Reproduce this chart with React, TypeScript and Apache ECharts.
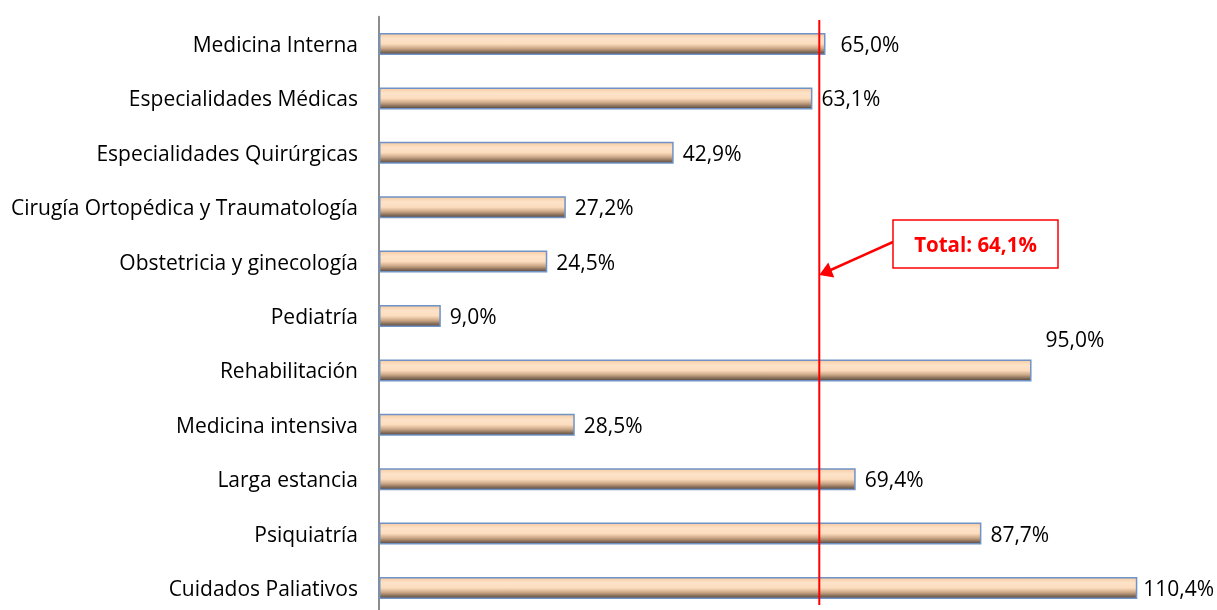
import React, { useEffect, useRef } from "react";
import * as echarts from "echarts";

const categories = [
  "Medicina Interna",
  "Especialidades Médicas",
  "Especialidades Quirúrgicas",
  "Cirugía Ortopédica y Traumatología",
  "Obstetricia y ginecología",
  "Pediatría",
  "Rehabilitación",
  "Medicina intensiva",
  "Larga estancia",
  "Psiquiatría",
  "Cuidados Paliativos",
];
const values = [65.0, 63.1, 42.9, 27.2, 24.5, 9.0, 95.0, 28.5, 69.4, 87.7, 110.4];
const totalValue = 64.1;
const totalLabel = "Total: 64,1%";

const FONT = "Open Sans";

const fmt = (v: number) => v.toFixed(1).replace(".", ",") + "%";

export default function App() {
  const ref = useRef<HTMLDivElement>(null);
  useEffect(() => {
    if (!ref.current) return;
    const chart = echarts.init(ref.current, undefined, { renderer: "svg" });
    const barGradient = new echarts.graphic.LinearGradient(0, 0, 0, 1, [
      { offset: 0, color: "#f6cba3" },
      { offset: 0.25, color: "#fde3c9" },
      { offset: 0.5, color: "#fcdcbd" },
      { offset: 0.72, color: "#c9a585" },
      { offset: 1, color: "#55453a" },
    ]);
    const data = values.map((v, i) => {
      const item: any = { value: v };
      if (v === 95.0) item.label = { distance: 14, offset: [0, -31] };
      else if (v === 65.0) item.label = { distance: 15 };
      else if (v === 110.4) item.label = { distance: 6 };
      return item;
    });
    chart.setOption({
      animation: false,
      grid: { left: 379, top: 16.8, right: 0, bottom: 4.8, containLabel: false },
      xAxis: { type: "value", min: 0, max: 122, show: false },
      yAxis: {
        type: "category",
        data: categories,
        inverse: true,
        axisLine: { show: true, lineStyle: { color: "#8c8c8c", width: 2 } },
        axisTick: { show: false },
        axisLabel: { margin: 21, color: "#000", fontSize: 21, fontFamily: FONT },
      },
      series: [
        {
          type: "bar",
          data,
          barWidth: "40.5%",
          itemStyle: { color: barGradient, borderColor: "#6f93c6", borderWidth: 1.5 },
          label: {
            show: true,
            position: "right",
            distance: 9,
            color: "#000",
            fontSize: 21,
            fontFamily: FONT,
            formatter: (p: any) => fmt(p.value),
          },
        },
      ],
    });
    const lx = chart.convertToPixel({ xAxisIndex: 0 }, totalValue) as number;
    chart.setOption({
      graphic: [
        {
          type: "line",
          shape: { x1: lx, y1: 20, x2: lx, y2: 605 },
          style: { stroke: "#ff0000", lineWidth: 2 },
          z: 100,
        },
        {
          type: "line",
          shape: { x1: 893, y1: 242, x2: lx + 8, y2: 271.5 },
          style: { stroke: "#ff0000", lineWidth: 2.5 },
          z: 100,
        },
        {
          type: "polygon",
          shape: { points: [[lx, 275], [lx + 9, 262.5], [lx + 15, 277.5]] },
          style: { fill: "#ff0000" },
          z: 100,
        },
        {
          type: "rect",
          shape: { x: 893, y: 220, width: 165, height: 48 },
          style: { fill: "#ffffff", stroke: "#ff0000", lineWidth: 1.5 },
          z: 100,
        },
        {
          type: "text",
          x: 975.5,
          y: 244,
          style: {
            text: totalLabel,
            fill: "#ff0000",
            fontSize: 20.5,
            fontWeight: "bold",
            fontFamily: FONT,
            align: "center",
            verticalAlign: "middle",
          },
          z: 101,
        },
      ],
    });
    return () => chart.dispose();
  }, []);
  return (
    <div
      ref={ref}
      style={{ position: "fixed", left: 0, top: 0, width: 1217, height: 620 }}
    />
  );
}
